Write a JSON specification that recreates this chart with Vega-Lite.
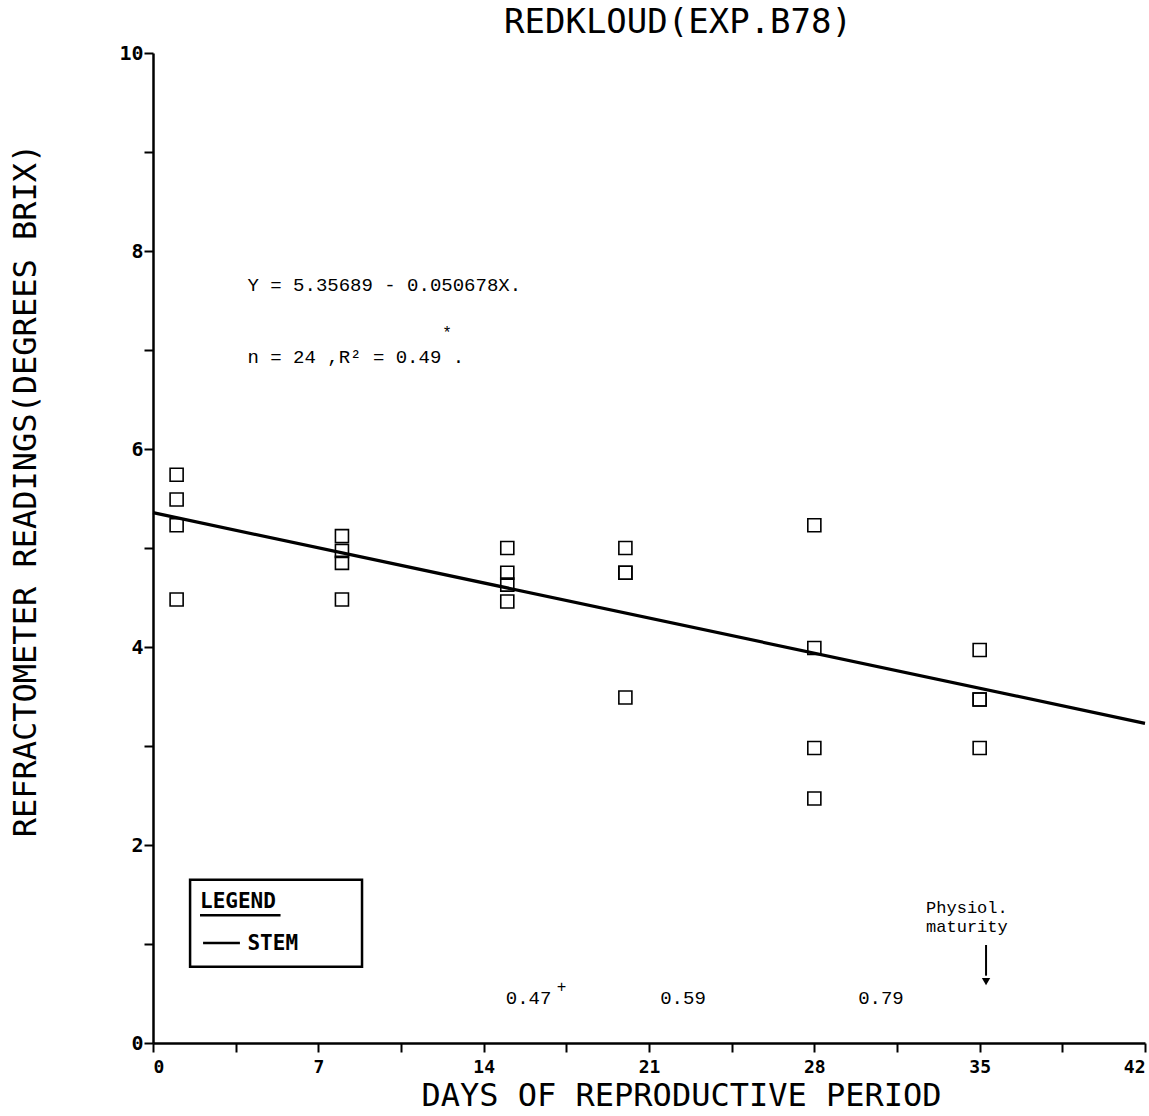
{
  "$schema": "https://vega.github.io/schema/vega-lite/v6.json",
  "width": 992,
  "height": 990,
  "autosize": {"type": "none"},
  "padding": {"left": 153, "top": 53, "right": 4, "bottom": 73},
  "background": "white",
  "title": {
    "text": "REDKLOUD(EXP.B78)",
    "font": "DejaVu Sans Mono",
    "fontSize": 34,
    "fontWeight": "normal",
    "color": "black",
    "anchor": "middle",
    "dx": 29,
    "offset": 3
  },
  "config": {
    "view": {"stroke": null},
    "axis": {
      "domainColor": "black",
      "domainWidth": 2.5,
      "tickColor": "black",
      "tickWidth": 2,
      "tickSize": 9,
      "grid": false,
      "labelColor": "black",
      "labelFont": "DejaVu Sans Mono",
      "labelFontWeight": "bold",
      "labelFontSize": 18,
      "titleColor": "black",
      "titleFont": "DejaVu Sans Mono",
      "titleFontWeight": "normal",
      "titleFontSize": 32
    }
  },
  "encoding": {
    "x": {
      "field": "x",
      "type": "quantitative",
      "scale": {"domain": [0, 42], "nice": false, "zero": false},
      "axis": {
        "title": "DAYS OF REPRODUCTIVE PERIOD",
        "values": [0, 3.5, 7, 10.5, 14, 17.5, 21, 24.5, 28, 31.5, 35, 38.5, 42],
        "labelExpr": "datum.value % 7 === 0 ? datum.label : ''",
        "labelPadding": 6,
        "labelFlush": true,
        "titleX": 528,
        "titlePadding": 4
      }
    },
    "y": {
      "field": "y",
      "type": "quantitative",
      "scale": {"domain": [0, 10], "nice": false, "zero": false},
      "axis": {
        "title": "REFRACTOMETER READINGS(DEGREES BRIX)",
        "values": [0, 1, 2, 3, 4, 5, 6, 7, 8, 9, 10],
        "labelExpr": "datum.value % 2 === 0 ? datum.label : ''",
        "labelPadding": 1,
        "labelFontSize": 20,
        "labelFlush": false,
        "titleX": -128,
        "titleY": 437,
        "titleAngle": -90,
        "titleAlign": "center",
        "titleBaseline": "middle"
      }
    }
  },
  "layer": [
    {
      "data": {"values": [
        {"x": 1, "y": 5.74}, {"x": 1, "y": 5.49}, {"x": 1, "y": 5.23}, {"x": 1, "y": 4.48},
        {"x": 8, "y": 5.12}, {"x": 8, "y": 4.97}, {"x": 8, "y": 4.85}, {"x": 8, "y": 4.48},
        {"x": 15, "y": 5.0}, {"x": 15, "y": 4.75}, {"x": 15, "y": 4.63}, {"x": 15, "y": 4.46},
        {"x": 20, "y": 5.0}, {"x": 20, "y": 4.75}, {"x": 20, "y": 4.75}, {"x": 20, "y": 3.49},
        {"x": 28, "y": 5.23}, {"x": 28, "y": 3.99}, {"x": 28, "y": 2.98}, {"x": 28, "y": 2.47},
        {"x": 35, "y": 3.97}, {"x": 35, "y": 3.47}, {"x": 35, "y": 3.47}, {"x": 35, "y": 2.98}
      ]},
      "mark": {"type": "point", "shape": "square", "filled": false, "color": "black", "size": 170, "strokeWidth": 1.6, "opacity": 1}
    },
    {
      "data": {"values": [{"x": 0, "y": 5.35689}, {"x": 42, "y": 3.22841}]},
      "mark": {"type": "line", "color": "black", "strokeWidth": 3.2}
    },
    {
      "data": {"values": [
        {"x": 4.0, "y": 7.66, "label": "Y = 5.35689 - 0.050678X."},
        {"x": 4.0, "y": 6.93, "label": "n = 24 ,R² = 0.49 ."}
      ]},
      "mark": {"type": "text", "align": "left", "baseline": "middle", "font": "Liberation Mono", "fontSize": 19, "color": "black"},
      "encoding": {"text": {"field": "label"}}
    },
    {
      "data": {"values": [
        {"x": 12.45, "y": 7.17, "label": "*"},
        {"x": 17.3, "y": 0.57, "label": "+"}
      ]},
      "mark": {"type": "text", "align": "center", "baseline": "middle", "font": "Liberation Mono", "fontSize": 16, "color": "black"},
      "encoding": {"text": {"field": "label"}}
    },
    {
      "data": {"values": [
        {"x": 15.9, "y": 0.455, "label": "0.47"},
        {"x": 22.44, "y": 0.455, "label": "0.59"},
        {"x": 30.82, "y": 0.455, "label": "0.79"}
      ]},
      "mark": {"type": "text", "align": "center", "baseline": "middle", "font": "Liberation Mono", "fontSize": 19, "color": "black"},
      "encoding": {"text": {"field": "label"}}
    },
    {
      "data": {"values": [
        {"x": 34.46, "y": 1.36, "label": "Physiol."},
        {"x": 34.46, "y": 1.17, "label": "maturity"}
      ]},
      "mark": {"type": "text", "align": "center", "baseline": "middle", "font": "Liberation Mono", "fontSize": 17, "color": "black"},
      "encoding": {"text": {"field": "label"}}
    },
    {
      "data": {"values": [{"x": 35.27, "y": 0.99, "y2": 0.68}]},
      "mark": {"type": "rule", "color": "black", "strokeWidth": 2},
      "encoding": {"y2": {"field": "y2"}}
    },
    {
      "data": {"values": [{"x": 35.27, "y": 0.62}]},
      "mark": {"type": "point", "shape": "triangle-down", "filled": true, "color": "black", "size": 70, "opacity": 1}
    },
    {
      "data": {"values": [{"x": 1.57, "x2": 8.85, "y": 1.65, "y2": 0.77}]},
      "mark": {"type": "rect", "fill": "white", "stroke": "black", "strokeWidth": 2.5},
      "encoding": {"x2": {"field": "x2"}, "y2": {"field": "y2"}}
    },
    {
      "data": {"values": [
        {"x": 1.99, "x2": 5.4, "y": 1.29},
        {"x": 2.12, "x2": 3.68, "y": 1.01}
      ]},
      "mark": {"type": "rule", "color": "black", "strokeWidth": 2.5},
      "encoding": {"x2": {"field": "x2"}}
    },
    {
      "data": {"values": [
        {"x": 1.99, "y": 1.42, "label": "LEGEND"},
        {"x": 4.0, "y": 1.0, "label": "STEM"}
      ]},
      "mark": {"type": "text", "align": "left", "baseline": "middle", "font": "DejaVu Sans Mono", "fontWeight": "bold", "fontSize": 21, "color": "black"},
      "encoding": {"text": {"field": "label"}}
    }
  ]
}
